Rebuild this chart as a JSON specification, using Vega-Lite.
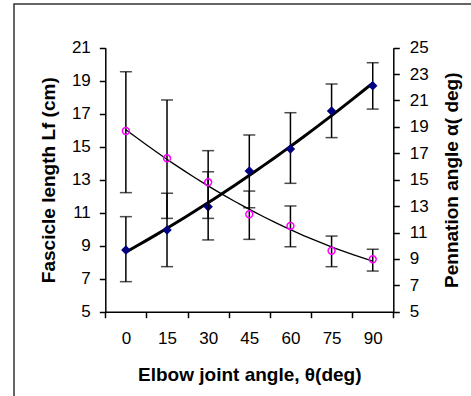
{
  "$schema": "https://vega.github.io/schema/vega-lite/v6.json",
  "autosize": {"type": "none"},
  "padding": {"left": 14, "top": 4, "right": 0, "bottom": 0},
  "width": 470,
  "height": 400,
  "background": "white",
  "config": {
    "view": {"stroke": "#333333", "strokeWidth": 1.5},
    "axis": {
      "labelFont": "Liberation Sans",
      "labelFontSize": 17,
      "labelColor": "black",
      "titleFont": "Liberation Sans",
      "titleFontSize": 19,
      "titleFontWeight": "bold",
      "titleColor": "black",
      "domainColor": "black",
      "domainWidth": 1.5,
      "tickColor": "black",
      "tickWidth": 1.5,
      "tickSize": 6,
      "labelOverlap": false,
      "grid": false
    }
  },
  "data": {
    "values": [
      {"angle": 0, "fl": 8.74, "fl_lo": 6.82, "fl_hi": 10.76, "pa": 18.69, "pa_lo": 14.02, "pa_hi": 23.18},
      {"angle": 15, "fl": 9.95, "fl_lo": 7.73, "fl_hi": 12.18, "pa": 16.62, "pa_lo": 12.07, "pa_hi": 21.04},
      {"angle": 30, "fl": 11.36, "fl_lo": 9.35, "fl_hi": 13.48, "pa": 14.8, "pa_lo": 12.07, "pa_hi": 17.2},
      {"angle": 45, "fl": 13.53, "fl_lo": 11.3, "fl_hi": 15.71, "pa": 12.38, "pa_lo": 10.48, "pa_hi": 14.14},
      {"angle": 60, "fl": 14.86, "fl_lo": 12.78, "fl_hi": 17.06, "pa": 11.5, "pa_lo": 9.92, "pa_hi": 13.01},
      {"angle": 75, "fl": 17.16, "fl_lo": 15.55, "fl_hi": 18.8, "pa": 9.62, "pa_lo": 8.41, "pa_hi": 10.73},
      {"angle": 90, "fl": 18.7, "fl_lo": 17.28, "fl_hi": 20.09, "pa": 8.97, "pa_lo": 8.08, "pa_hi": 9.73}
    ]
  },
  "resolve": {"scale": {"y": "independent"}, "axis": {"y": "independent"}},
  "layer": [
    {
      "layer": [
        {
          "mark": {"type": "errorbar", "ticks": {"size": 12}, "thickness": 1.5, "color": "black"},
          "encoding": {
            "x": {"field": "angle", "type": "quantitative",
              "scale": {"domain": [-7.5, 97.5], "range": [91.3, 379.3], "nice": false, "zero": false},
              "axis": {
                "title": "Elbow joint angle, θ(deg)",
                "values": [-7.5, 7.5, 22.5, 37.5, 52.5, 67.5, 82.5, 97.5],
                "labelExpr": "datum.value < 90 ? format(datum.value + 7.5, 'd') : ''",
                "labelOffset": 20.57,
                "labelPadding": 13,
                "labelFlush": false,
                "labelOverlap": false,
                "offset": -92.3,
                "titlePadding": 19,
                "encode": {"ticks": {"update": {"y": {"value": -6}}}}
              }},
            "y": {"field": "fl_lo", "type": "quantitative", "title": "Fascicle length Lf (cm)",
              "scale": {"domain": [5, 21], "range": [307.7, 43.7], "nice": false, "zero": false},
              "axis": {
                "orient": "left",
                "values": [5, 7, 9, 11, 13, 15, 17, 19, 21],
                "offset": -91.3,
                "labelPadding": 9,
                "labelOverlap": false,
                "titlePadding": 13,
                "encode": {"ticks": {"update": {"x": {"value": 6}}}}
              }},
            "y2": {"field": "fl_hi"}
          }
        },
        {
          "transform": [{"regression": "fl", "on": "angle", "method": "poly", "order": 2}],
          "mark": {"type": "line", "color": "black", "strokeWidth": 3},
          "encoding": {
            "x": {"field": "angle", "type": "quantitative"},
            "y": {"field": "fl", "type": "quantitative", "title": "Fascicle length Lf (cm)"}
          }
        },
        {
          "mark": {"type": "point", "shape": "diamond", "filled": true, "color": "#000080", "size": 90, "opacity": 1},
          "encoding": {
            "x": {"field": "angle", "type": "quantitative"},
            "y": {"field": "fl", "type": "quantitative", "title": "Fascicle length Lf (cm)"}
          }
        }
      ]
    },
    {
      "layer": [
        {
          "mark": {"type": "errorbar", "ticks": {"size": 12}, "thickness": 1.5, "color": "black"},
          "encoding": {
            "x": {"field": "angle", "type": "quantitative"},
            "y": {"field": "pa_lo", "type": "quantitative", "title": "Pennation angle α( deg)"},
            "y2": {"field": "pa_hi"}
          }
        },
        {
          "transform": [{"regression": "pa", "on": "angle", "method": "poly", "order": 2}],
          "mark": {"type": "line", "color": "black", "strokeWidth": 1.3},
          "encoding": {
            "x": {"field": "angle", "type": "quantitative"},
            "y": {"field": "pa", "type": "quantitative", "title": "Pennation angle α( deg)"}
          }
        },
        {
          "mark": {"type": "point", "shape": "circle", "filled": false, "color": "#FF00FF", "size": 48, "strokeWidth": 1.5, "opacity": 1},
          "encoding": {
            "x": {"field": "angle", "type": "quantitative"},
            "y": {"field": "pa", "type": "quantitative", "title": "Pennation angle α( deg)",
              "scale": {"domain": [5, 25], "range": [307.7, 43.7], "nice": false, "zero": false},
              "axis": {
                "orient": "right",
                "titleAngle": 270,
                "values": [5, 7, 9, 11, 13, 15, 17, 19, 21, 23, 25],
                "tickCount": 11,
                "offset": -90.7,
                "labelPadding": 10,
                "labelOverlap": false,
                "labelBound": false,
                "titlePadding": 33,
                "encode": {"ticks": {"update": {"x": {"value": -6}}}}
              }}
          }
        }
      ]
    }
  ]
}
